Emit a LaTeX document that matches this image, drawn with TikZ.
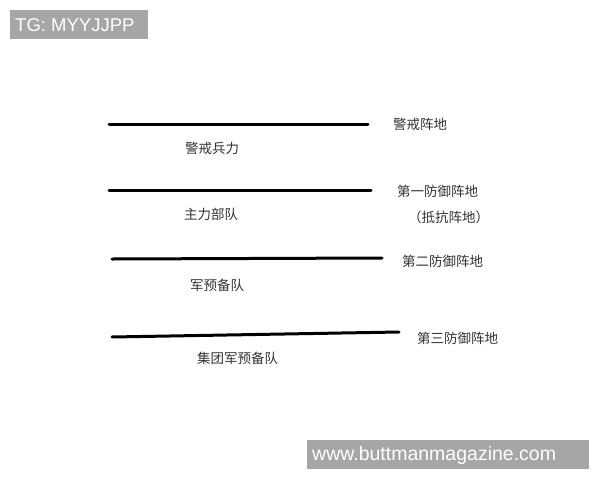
\documentclass[tikz,border=0pt]{standalone}
\usepackage{fontspec}
\setmainfont{Liberation Sans}
\newfontfamily\cjk{Noto Sans CJK SC}
\begin{document}
\begin{tikzpicture}[x=1pt,y=-1pt,
  lbl/.style={font=\cjk\fontsize{13.5}{15}\selectfont, text=black!80, inner sep=0pt},
  front/.style={line width=3pt, black, line cap=round},
  wm/.style={text=white, inner sep=0pt, anchor=west}]
\useasboundingbox (0,0) rectangle (600,480);
\fill[white] (0,0) rectangle (600,480);
% watermarks
\fill[black!35] (10,10) rectangle (148,39);
\node[wm, font=\fontsize{18.5}{20}\selectfont] (tg) at (15,25) {TG: MYYJJPP};
\fill[black!35] (307,440) rectangle (589,469);
\node[wm, font=\fontsize{19.5}{21}\selectfont] (url) at (312,455) {www.buttmanmagazine.com};
% lines
\coordinate (a1) at (109,124); \coordinate (a2) at (368,124);
\coordinate (b1) at (109,190); \coordinate (b2) at (371,190);
\coordinate (c1) at (112,259); \coordinate (c2) at (382,258);
\coordinate (d1) at (112,337); \coordinate (d2) at (399,332);
\draw[front] (a1) -- (a2);
\draw[front] (b1) -- (b2);
\draw[front] (c1) -- (c2);
\draw[front] (d1) -- (d2);
% labels
\node[lbl, anchor=west] (p1) at (393,124) {警戒阵地};
\node[lbl, anchor=west] (f1) at (185,148) {警戒兵力};
\node[lbl, anchor=west] (p2) at (397,191) {第一防御阵地};
\node[lbl, anchor=west] (p2b) at (408,217) {（抵抗阵地）};
\node[lbl, anchor=west] (f2) at (184,214) {主力部队};
\node[lbl, anchor=west] (p3) at (402,261) {第二防御阵地};
\node[lbl, anchor=west] (f3) at (190,285) {军预备队};
\node[lbl, anchor=west] (p4) at (417,338) {第三防御阵地};
\node[lbl, anchor=west] (f4) at (197,358) {集团军预备队};
\end{tikzpicture}
\end{document}
